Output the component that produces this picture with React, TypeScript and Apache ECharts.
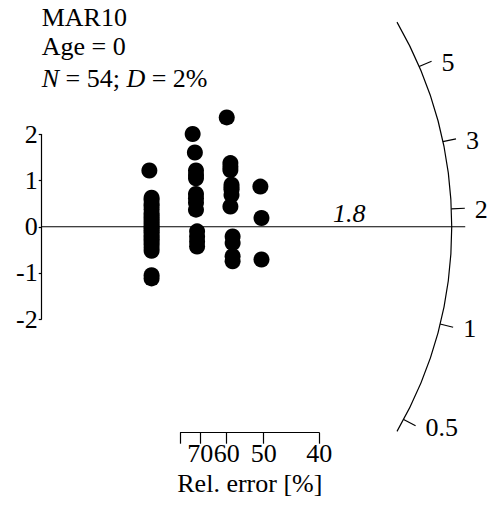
import React, { useEffect, useRef } from "react";
import * as echarts from "echarts";

// ---- data ----
const sampleName = "MAR10";
const ageText = "Age = 0";
const nValue = 54;
const dValue = "2%";
const centralValue = 1.8;

// precision (1 / relative error) of each aliquot
const precision = [
  0.97, 0.99, 0.99, 0.99, 0.99, 0.99, 0.99, 0.99, 0.99, 0.99, 0.99, 0.99, 0.99, 0.99, 0.99, 0.99, 0.99, 0.99, 0.99, 0.99, 0.99, 0.99, 0.99, 0.99, 0.99,
  1.36, 1.38, 1.39, 1.39, 1.39, 1.39, 1.39, 1.39, 1.39, 1.4, 1.4, 1.4, 1.4,
  1.667, 1.7, 1.7, 1.7, 1.71, 1.71, 1.71, 1.71, 1.7, 1.72, 1.72, 1.72, 1.72,
  1.97, 1.98, 1.98,
];
// standardised estimate of each aliquot
const stdEstimate = [
  1.22, 0.63, 0.58, 0.5, 0.45, 0.38, 0.3, 0.25, 0.2, 0.15, 0.1, 0.05, 0.0, -0.03, -0.08, -0.12, -0.18, -0.22, -0.27, -0.32, -0.38, -0.45, -0.52, -1.05, -1.12,
  2.01, 1.61, 1.22, 1.12, 1.05, 0.71, 0.62, 0.52, 0.37, -0.1, -0.21, -0.32, -0.43,
  2.37, 1.38, 1.3, 1.23, 0.91, 0.85, 0.8, 0.69, 0.44, -0.21, -0.35, -0.64, -0.75,
  0.87, 0.19, -0.71,
];

const yTickMin = -2;
const yTickMax = 2;
const relErrorTicks = [80, 70, 60, 50, 40];
const relErrorLabels = [70, 60, 50, 40];
const radialTicks = [0.5, 1, 2, 3, 5];
const radialRange = [0.45, 7.2];
const arcPrecision = 3.694;

const FONT = "Liberation Serif";
const FS = 26;
const FONT_CSS = `${FS}px ${FONT}`;
const FONT_CSS_I = `italic ${FS}px ${FONT}`;

export default function App() {
  const ref = useRef<HTMLDivElement>(null);

  useEffect(() => {
    if (!ref.current) return;
    const chart = echarts.init(ref.current, undefined, { renderer: "svg" });
    const points = precision.map((p, i) => [p, stdEstimate[i]]);

    chart.setOption({
      animation: false,
      backgroundColor: "#fff",
      grid: [
        { left: 41.7, top: 134.5, width: 444, height: 184.5 },
        { left: 41.7 + 111 * 1.25, top: 400, width: 111 * 1.25, height: 32.7 },
      ],
      xAxis: [
        { type: "value", gridIndex: 0, min: 0, max: 4, show: false },
        {
          type: "value",
          gridIndex: 1,
          min: 100 / relErrorTicks[0],
          max: 100 / relErrorTicks[relErrorTicks.length - 1],
          position: "bottom",
          axisLine: { show: true, onZero: false, lineStyle: { color: "#000", width: 1.2 } },
          axisTick: {
            show: true,
            inside: false,
            length: 11,
            lineStyle: { color: "#000", width: 1.2 },
            customValues: relErrorTicks.map((r) => 100 / r),
          },
          axisLabel: {
            show: true,
            margin: 8,
            color: "#000",
            fontFamily: FONT,
            fontSize: FS,
            customValues: relErrorLabels.map((r) => 100 / r),
            formatter: (v: number) => String(Math.round(100 / v)),
          },
          splitLine: { show: false },
          name: "Rel. error [%]",
          nameLocation: "middle",
          nameGap: 38,
          nameTextStyle: { color: "#000", fontFamily: FONT, fontSize: FS },
        },
      ],
      yAxis: [
        {
          type: "value",
          gridIndex: 0,
          min: yTickMin,
          max: yTickMax,
          interval: 1,
          axisLine: { show: true, lineStyle: { color: "#000", width: 1.2 } },
          axisTick: { show: true, inside: false, length: 3, lineStyle: { color: "#000", width: 1.2 } },
          axisLabel: { show: true, margin: 4, color: "#000", fontFamily: FONT, fontSize: FS },
          splitLine: { show: false },
        },
        { type: "value", gridIndex: 1, show: false, min: 0, max: 1 },
      ],
      series: [
        {
          type: "scatter",
          xAxisIndex: 0,
          yAxisIndex: 0,
          data: points,
          symbol: "circle",
          symbolSize: 16,
          clip: false,
          itemStyle: { color: "#000", opacity: 1 },
          silent: true,
        },
      ],
    });

    const O = chart.convertToPixel({ xAxisIndex: 0, yAxisIndex: 0 }, [0, 0]) as number[];
    const P = chart.convertToPixel({ xAxisIndex: 0, yAxisIndex: 0 }, [1, 1]) as number[];
    const kx = P[0] - O[0];
    const ky = O[1] - P[1];
    const R = arcPrecision * kx;
    const ang = (v: number) => Math.atan(Math.log(v / centralValue) * (ky / kx));
    const tickLen = 13.5;
    const line = { stroke: "#000", lineWidth: 1.2 };

    const graphic: any[] = [];
    graphic.push({
      type: "arc",
      shape: { cx: O[0], cy: O[1], r: R, startAngle: -ang(radialRange[1]), endAngle: -ang(radialRange[0]), clockwise: true },
      style: { stroke: "#000", lineWidth: 1.2, fill: null },
      silent: true,
    });
    // central line
    graphic.push({
      type: "line",
      shape: { x1: O[0], y1: O[1], x2: O[0] + R + tickLen, y2: O[1] },
      style: line,
      silent: true,
    });
    radialTicks.forEach((v) => {
      const a = ang(v);
      const c = Math.cos(a);
      const s = Math.sin(a);
      const ex = O[0] + (R + tickLen) * c;
      const ey = O[1] - (R + tickLen) * s;
      graphic.push({
        type: "line",
        shape: { x1: O[0] + R * c, y1: O[1] - R * s, x2: ex, y2: ey },
        style: line,
        silent: true,
      });
      graphic.push({
        type: "text",
        x: ex + 10,
        y: ey + 1.5,
        style: { text: String(v), font: FONT_CSS, fill: "#000", align: "left", verticalAlign: "middle" },
        silent: true,
      });
    });
    // central value label
    graphic.push({
      type: "text",
      x: O[0] + R * 0.75,
      y: O[1] - 13,
      style: { text: String(centralValue), font: FONT_CSS_I, fill: "#000", align: "center", verticalAlign: "middle" },
      silent: true,
    });
    // header texts
    graphic.push({
      type: "text",
      x: O[0],
      y: 17.2,
      style: { text: sampleName, font: FONT_CSS, fill: "#000", align: "left", verticalAlign: "middle" },
      silent: true,
    });
    graphic.push({
      type: "text",
      x: O[0],
      y: 46.4,
      style: { text: ageText, font: FONT_CSS, fill: "#000", align: "left", verticalAlign: "middle" },
      silent: true,
    });
    graphic.push({
      type: "text",
      x: O[0],
      y: 78.5,
      style: {
        text: `{i|N}{r| = ${nValue}; }{i|D}{r| = ${dValue}}`,
        font: FONT_CSS,
        fill: "#000",
        align: "left",
        verticalAlign: "middle",
        rich: {
          i: { font: FONT_CSS_I, fontFamily: FONT, fontSize: FS, fontStyle: "italic", fill: "#000" },
          r: { font: FONT_CSS, fontFamily: FONT, fontSize: FS, fill: "#000" },
        },
      },
      silent: true,
    });

    chart.setOption({ graphic });

    return () => chart.dispose();
  }, []);

  return (
    <div
      ref={ref}
      style={{ position: "fixed", left: 0, top: 0, width: 490, height: 508, background: "#fff" }}
    />
  );
}
